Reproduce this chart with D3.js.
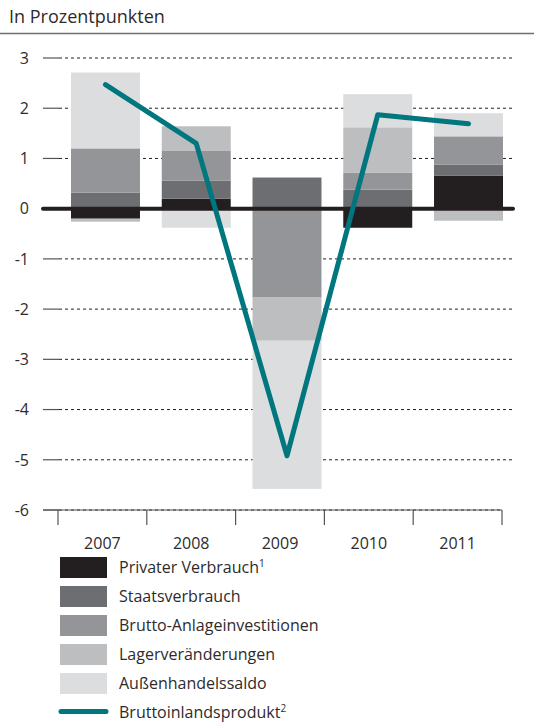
<!DOCTYPE html>
<html>
<head>
<meta charset="utf-8">
<script src="https://cdn.jsdelivr.net/npm/d3@7"></script>
<style>
  body { margin: 0; background: #fff; }
  svg { display: block; font-family: "Open Sans", "Noto Sans", sans-serif; }
</style>
</head>
<body>
<svg id="chart" width="534" height="722"></svg>
<script>
// values in percentage points
const years = ['2007', '2008', '2009', '2010', '2011'];
const privat = [-0.2, 0.2, 0, -0.38, 0.66];
const staat = [0.32, 0.36, 0.62, 0.38, 0.22];
const anlage = [0.88, 0.6, -1.77, 0.34, 0.56];
const lager = [-0.06, 0.48, -0.86, 0.9, -0.24];
const aussen = [1.51, -0.38, -2.95, 0.66, 0.46];
const bip = [2.47, 1.3, -4.92, 1.87, 1.69];
const yTicks = [3, 2, 1, 0, -1, -2, -3, -4, -5, -6];

const series = [
  { key: 'privat', label: 'Privater Verbrauch', sup: '1', color: '#231f20', values: privat },
  { key: 'staat', label: 'Staatsverbrauch', color: '#6d6e71', values: staat },
  { key: 'anlage', label: 'Brutto-Anlageinvestitionen', color: '#939598', values: anlage },
  { key: 'lager', label: 'Lagerveränderungen', color: '#bcbec0', values: lager },
  { key: 'aussen', label: 'Außenhandelssaldo', color: '#dcdddf', values: aussen },
];
const lineColor = '#00767e';
const ink = '#231f20';
const textInk = '#2e2b2c';

const svg = d3.select('#chart');

// title + rule
svg.append('text')
  .attr('x', 9).attr('y', 23)
  .attr('font-size', 18).attr('fill', textInk)
  .text('In Prozentpunkten');
svg.append('line')
  .attr('x1', 0).attr('x2', 534).attr('y1', 33.5).attr('y2', 33.5)
  .attr('stroke', '#6d6e71').attr('stroke-width', 1.5);

const y = d3.scaleLinear().domain([-6, 3]).range([510, 58]);
// axis bands (labels/ticks) and a slightly wider set for the bars
const xAxis = d3.scaleBand().domain(years).range([58, 502]);
const xBar = d3.scaleBand().domain(years).range([71, 503]).paddingInner(0.24).paddingOuter(0);

// gridlines
const grid = svg.append('g');
yTicks.filter(t => t !== 0).forEach(t => {
  grid.append('line')
    .attr('x1', 43).attr('x2', 59).attr('y1', y(t)).attr('y2', y(t))
    .attr('stroke', '#555').attr('stroke-width', 1.2);
  grid.append('line')
    .attr('x1', 59).attr('x2', t === -6 ? 502 : 513).attr('y1', y(t)).attr('y2', y(t))
    .attr('stroke', ink).attr('stroke-width', 1)
    .attr('stroke-dasharray', '3,3');
});
grid.selectAll('text')
  .data(yTicks)
  .join('text')
  .attr('x', 29).attr('y', d => y(d))
  .attr('dy', '0.36em')
  .attr('text-anchor', 'end')
  .attr('font-size', 16).attr('fill', textInk)
  .text(d => d);

// bottom axis
const xa = svg.append('g');
xa.append('line')
  .attr('x1', 43).attr('x2', 502).attr('y1', y(-6)).attr('y2', y(-6))
  .attr('stroke', '#555').attr('stroke-width', 1.2);
xa.selectAll('line.tick')
  .data(years.map(d => xAxis(d)).concat([xAxis.range()[1]]))
  .join('line')
  .attr('class', 'tick')
  .attr('x1', d => d).attr('x2', d => d)
  .attr('y1', y(-6)).attr('y2', y(-6) + 15)
  .attr('stroke', '#555').attr('stroke-width', 1.2);
xa.selectAll('text')
  .data(years)
  .join('text')
  .attr('x', d => xAxis(d) + xAxis.bandwidth() / 2)
  .attr('y', 549)
  .attr('text-anchor', 'middle')
  .attr('font-size', 16).attr('fill', textInk)
  .text(d => d);

// stacked bars
const table = years.map((yr, i) => {
  const row = { year: yr };
  series.forEach(s => { row[s.key] = s.values[i]; });
  return row;
});
const stack = d3.stack()
  .keys(series.map(s => s.key))
  .offset(d3.stackOffsetDiverging);
const layers = stack(table);

svg.append('g')
  .selectAll('g')
  .data(layers)
  .join('g')
  .attr('fill', (d, i) => series[i].color)
  .selectAll('rect')
  .data(d => d)
  .join('rect')
  .attr('x', d => xBar(d.data.year))
  .attr('width', xBar.bandwidth())
  .attr('y', d => y(Math.max(d[0], d[1])))
  .attr('height', d => Math.abs(y(d[0]) - y(d[1])));

// zero line
svg.append('line')
  .attr('x1', 43).attr('x2', 513).attr('y1', y(0)).attr('y2', y(0))
  .attr('stroke', ink).attr('stroke-width', 4)
  .attr('stroke-linecap', 'round');

// GDP line
const line = d3.line()
  .x((d, i) => xBar(years[i]) + xBar.bandwidth() / 2)
  .y(d => y(d));
svg.append('path')
  .datum(bip)
  .attr('d', line)
  .attr('fill', 'none')
  .attr('stroke', lineColor)
  .attr('stroke-width', 5)
  .attr('stroke-linejoin', 'round')
  .attr('stroke-linecap', 'round');

// legend
const legend = svg.append('g');
const rowY = (i) => 567.5 + i * 29;
series.forEach((s, i) => {
  legend.append('rect')
    .attr('x', 60).attr('y', rowY(i) - 10.5)
    .attr('width', 47).attr('height', 21)
    .attr('fill', s.color);
  const t = legend.append('text')
    .attr('x', 119).attr('y', rowY(i))
    .attr('dy', '0.35em')
    .attr('font-size', 16).attr('fill', textInk)
    .text(s.label);
  if (s.sup) {
    t.append('tspan').attr('font-size', 10).attr('dy', '-0.6em').text(s.sup);
  }
});
legend.append('line')
  .attr('x1', 61).attr('x2', 106)
  .attr('y1', rowY(5) - 1).attr('y2', rowY(5) - 1)
  .attr('stroke', lineColor).attr('stroke-width', 5)
  .attr('stroke-linecap', 'round');
const lt = legend.append('text')
  .attr('x', 119).attr('y', rowY(5))
  .attr('dy', '0.35em')
  .attr('font-size', 16).attr('fill', textInk)
  .text('Bruttoinlandsprodukt');
lt.append('tspan').attr('font-size', 10).attr('dy', '-0.6em').text('2');
</script>
</body>
</html>
